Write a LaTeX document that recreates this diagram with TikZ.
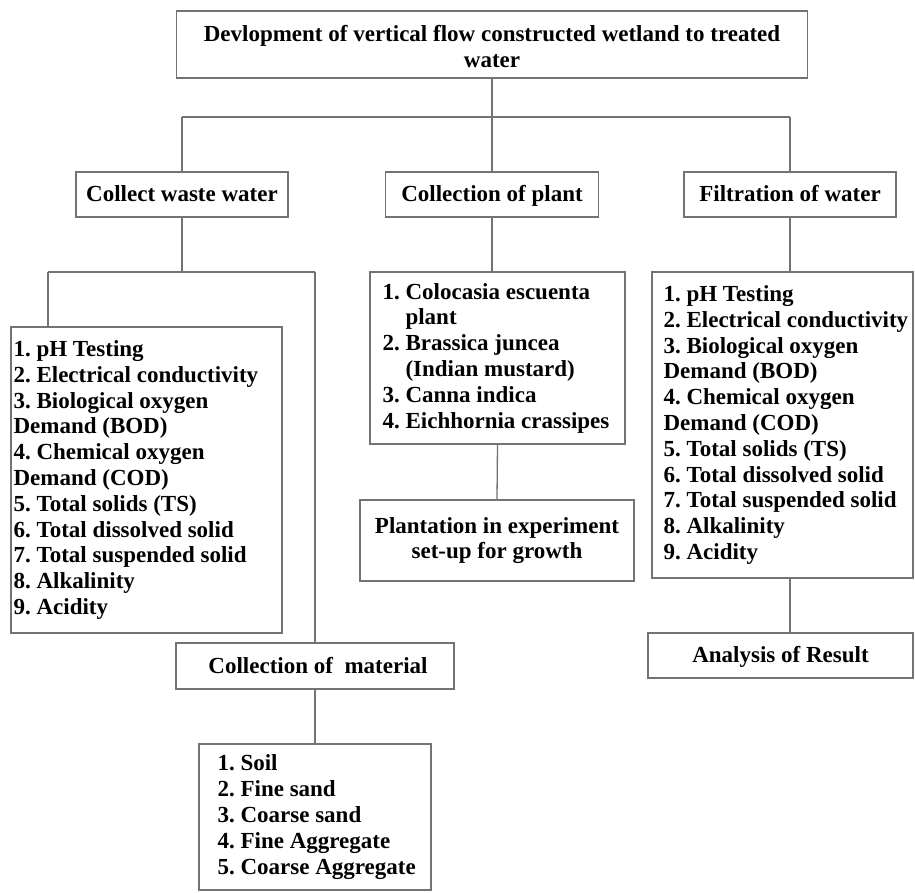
\documentclass[tikz,border=0pt]{standalone}
\usepackage{fontspec}
\setmainfont{Liberation Serif}
\frenchspacing
\begin{document}
\begin{tikzpicture}[x=1pt,y=-1pt,
  box/.style={draw=black!55, line width=1.3pt, inner sep=0pt},
  conn/.style={draw=black!55, line width=1.3pt},
  txt/.style={font=\fontsize{23}{25.8}\selectfont\bfseries, inner sep=0pt, align=left},
  ctxt/.style={font=\fontsize{23}{25.8}\selectfont\bfseries, align=center},
  onel/.style={text height=17pt, text depth=3pt}]
\useasboundingbox (0,0) rectangle (915,893);
\fill[white] (0,0) rectangle (915,893);

% top
\node[box, ctxt, minimum width=631pt, minimum height=67pt] (top) at (492,44.5)
  {\rule{0pt}{20pt}Devlopment of vertical flow constructed wetland to treated\\water};

% row 2
\node[box, ctxt, onel, minimum width=212pt, minimum height=45pt] (cww) at (182,194.5) {Collect waste water};
\node[box, ctxt, onel, minimum width=213pt, minimum height=45pt] (cop) at (492,194.5) {Collection of plant};
\node[box, ctxt, onel, minimum width=212pt, minimum height=45pt] (fow) at (790,194.5) {Filtration of water};

% left list
\node[box, minimum width=271pt, minimum height=306pt] (lst1) at (146.5,480) {};
\node[txt, anchor=west] (lst1t) at ([xshift=3pt]lst1.west)
  {1. pH Testing\\2. Electrical conductivity\\3. Biological oxygen\\Demand (BOD)\\4. Chemical oxygen\\Demand (COD)\\5. Total solids (TS)\\6. Total dissolved solid\\7. Total suspended solid\\8. Alkalinity\\9. Acidity};

% right list
\node[box, minimum width=261pt, minimum height=306pt] (lst3) at (782.5,425) {};
\node[txt, anchor=west] (lst3t) at ([xshift=12pt]lst3.west)
  {1. pH Testing\\2. Electrical conductivity\\3. Biological oxygen\\Demand (BOD)\\4. Chemical oxygen\\Demand (COD)\\5. Total solids (TS)\\6. Total dissolved solid\\7. Total suspended solid\\8. Alkalinity\\9. Acidity};

% plant list
\node[box, minimum width=255pt, minimum height=172pt] (plist) at (497.5,358) {};
\node[txt, anchor=west] (plistt) at ([xshift=13pt]plist.west)
  {1. Colocasia escuenta\\\hphantom{1. }plant\\2. Brassica juncea\\\hphantom{2. }(Indian mustard)\\3. Canna indica\\4. Eichhornia crassipes};

% plantation
\node[box, ctxt, minimum width=274pt, minimum height=81pt] (plant) at (497,540.5)
  {Plantation in experiment\\set-up for growth};

% material
\node[box, ctxt, onel, minimum width=278pt, minimum height=46pt] (mat) at (315,666) {\hspace*{6pt}Collection of\ \ material};

% bottom list
\node[box, minimum width=232pt, minimum height=146pt] (blist) at (315,817) {};
\node[txt, anchor=west] (blistt) at ([xshift=19pt]blist.west)
  {1. Soil\\2. Fine sand\\3. Coarse sand\\4. Fine Aggregate\\5. Coarse Aggregate};

% analysis
\node[box, ctxt, onel, minimum width=265pt, minimum height=45pt] (ana) at (780.5,655.5) {Analysis of Result};

% connectors
\coordinate (busL) at (182,117);
\coordinate (busM) at (492,117);
\coordinate (busR) at (790,117);
\draw[conn] (top.south) -- (busM);
\draw[conn] (busL) -- (busR);
\draw[conn] (busL) -- (cww.north);
\draw[conn] (busM) -- (cop.north);
\draw[conn] (busR) -- (fow.north);

\coordinate (j1) at (182,272);
\coordinate (j1L) at (48,272);
\coordinate (j1R) at (315,272);
\draw[conn] (cww.south) -- (j1);
\draw[conn] (j1L) -- (j1R);
\draw[conn] (j1L) -- (j1L |- lst1.north);
\draw[conn] (j1R) -- (mat.north);
\draw[conn] (mat.south) -- (blist.north);

\draw[conn] (cop.south) -- (cop.south |- plist.north);
\draw[conn] (plist.south) -- (plant.north);

\draw[conn] (fow.south) -- (fow.south |- lst3.north);
\draw[conn] (fow.south |- lst3.south) -- (fow.south |- ana.north);
\end{tikzpicture}
\end{document}
